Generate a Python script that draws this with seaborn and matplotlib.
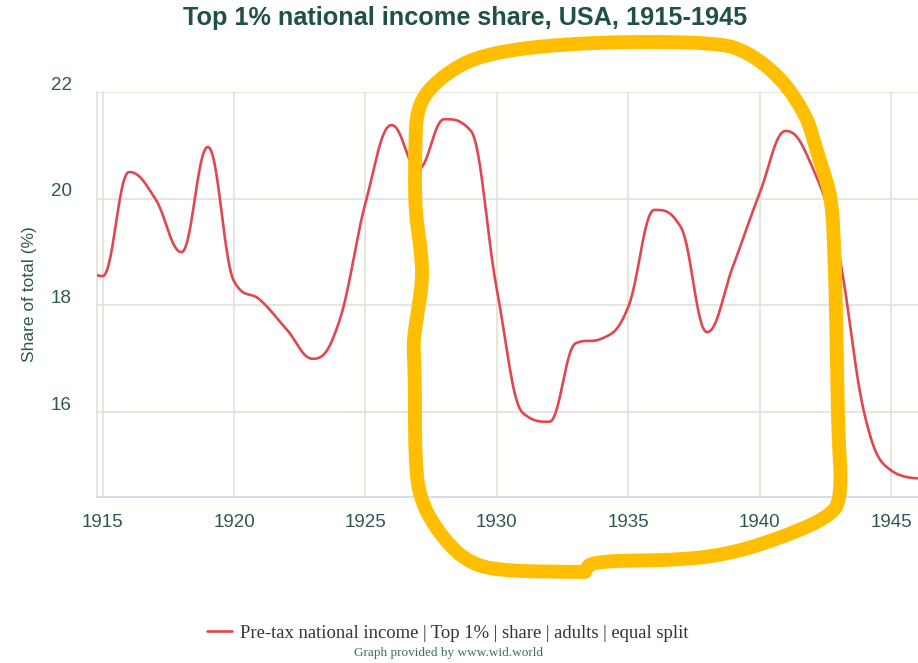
import matplotlib
matplotlib.use("Agg")
import matplotlib.pyplot as plt
import matplotlib.transforms as mtransforms
import numpy as np
import seaborn as sns

# Top 1% pre-tax national income share, USA
years = list(range(1914, 1947))
shares = [18.75, 18.55, 20.5, 20.0, 19.0, 20.97, 18.45, 18.1, 17.55, 17.0,
          17.7, 19.92, 21.38, 20.55, 21.49, 21.28, 18.3, 15.98, 15.82, 17.29,
          17.38, 17.97, 19.79, 19.47, 17.5, 18.75, 20.1, 21.27, 20.6, 19.0,
          15.95, 14.91, 14.76]
x_ticks = [1915, 1920, 1925, 1930, 1935, 1940, 1945]
y_ticks = [16, 18, 20, 22]
series_label = "Pre-tax national income | Top 1% | share | adults | equal split"

# hand-drawn highlight loop, in figure pixels (918x663)
loop_px = [(585, 572), (500, 571), (467, 562), (440, 535), (420, 500),
           (415, 460), (415, 377), (413, 343), (417, 317), (423, 277),
           (420, 243), (415, 210), (415, 150), (417, 105), (440, 77),
           (483, 53), (583, 42), (717, 42), (750, 53), (783, 80),
           (807, 117), (815, 145), (823, 170), (832, 200), (835, 267),
           (837, 360), (838, 427), (842, 500), (827, 518), (783, 537),
           (733, 553), (683, 560), (592, 561), (585, 571)]

TEAL = "#214f49"
TICK_TEAL = "#2f5854"
GRID = "#e1e1d6"
AXIS = "#ccd6eb"
RED = "#e0474f"
YELLOW = "#ffbf00"


def spline(xs, ys, smoothing=1.5, n=30):
    """Bezier spline with the control-point rule used by the source chart."""
    xs = np.asarray(xs, float)
    ys = np.asarray(ys, float)
    m = len(xs)
    lcx, lcy, rcx, rcy = xs.copy(), ys.copy(), xs.copy(), ys.copy()
    d = smoothing + 1
    for i in range(1, m - 1):
        px, py = xs[i], ys[i]
        lx, ly, nx, ny = xs[i - 1], ys[i - 1], xs[i + 1], ys[i + 1]
        a_x, a_y = (smoothing * px + lx) / d, (smoothing * py + ly) / d
        b_x, b_y = (smoothing * px + nx) / d, (smoothing * py + ny) / d
        corr = (b_y - a_y) * (b_x - px) / (b_x - a_x) + py - b_y
        a_y += corr
        b_y += corr
        if a_y > ly and a_y > py:
            a_y = max(ly, py); b_y = 2 * py - a_y
        elif a_y < ly and a_y < py:
            a_y = min(ly, py); b_y = 2 * py - a_y
        if b_y > ny and b_y > py:
            b_y = max(ny, py); a_y = 2 * py - b_y
        elif b_y < ny and b_y < py:
            b_y = min(ny, py); a_y = 2 * py - b_y
        lcx[i], lcy[i], rcx[i], rcy[i] = a_x, a_y, b_x, b_y
    t = np.linspace(0, 1, n)[:, None]
    out_x, out_y = [xs[0]], [ys[0]]
    for i in range(1, m):
        p0 = np.array([xs[i - 1], ys[i - 1]])
        p1 = np.array([rcx[i - 1], rcy[i - 1]])
        p2 = np.array([lcx[i], lcy[i]])
        p3 = np.array([xs[i], ys[i]])
        pts = ((1 - t) ** 3 * p0 + 3 * (1 - t) ** 2 * t * p1
               + 3 * (1 - t) * t ** 2 * p2 + t ** 3 * p3)
        out_x.extend(pts[1:, 0])
        out_y.extend(pts[1:, 1])
    return np.array(out_x), np.array(out_y)


def chaikin(pts, rounds=3):
    pts = np.asarray(pts, float)
    for _ in range(rounds):
        q = 0.75 * pts[:-1] + 0.25 * pts[1:]
        r = 0.25 * pts[:-1] + 0.75 * pts[1:]
        new = np.empty((2 * len(q), 2))
        new[0::2] = q
        new[1::2] = r
        pts = np.vstack([pts[:1], new, pts[-1:]])
    return pts


sns.set_style("white")
plt.rcParams["font.family"] = ["Liberation Sans", "DejaVu Sans"]

W, H = 918, 663
fig = plt.figure(figsize=(W / 100, H / 100), dpi=100)
left, top, bottom = 96.7, 92, 497
ax = fig.add_axes([left / W, 1 - bottom / H, (W - left) / W, (bottom - top) / H])

sx, sy = spline(years, shares)
sns.lineplot(x=sx, y=sy, ax=ax, color=RED, linewidth=1.9, sort=False,
             label=series_label, zorder=3)

ax.set_xlim(1914.77, 1946.03)
ax.set_ylim(14.41, 22)
ax.set_xticks(x_ticks)
ax.set_yticks(y_ticks)
ax.grid(True, color=GRID, linewidth=1.2)
for s in ("top", "right"):
    ax.spines[s].set_visible(False)
ax.spines["left"].set_color(GRID)
ax.spines["left"].set_linewidth(1.2)
ax.spines["bottom"].set_color(AXIS)
ax.spines["bottom"].set_linewidth(1.2)
ax.tick_params(axis="x", direction="out", length=7.5, width=1, color=AXIS,
               pad=5, labelsize=13.5, labelcolor=TICK_TEAL)
ax.tick_params(axis="y", length=0, pad=18, labelsize=13.5, labelcolor=TICK_TEAL)
shift = mtransforms.ScaledTranslation(0, 9 / 100, fig.dpi_scale_trans)
for lab in ax.get_yticklabels():
    lab.set_transform(lab.get_transform() + shift)

ax.set_xlabel("")
ax.set_ylabel("Share of total (%)", fontsize=12.5, color=TICK_TEAL, labelpad=10)

fig.text(465 / W, 1 - 18 / H, "Top 1% national income share, USA, 1915-1945",
         ha="center", va="center", fontsize=18.2, fontweight="bold", color=TEAL)

ax.legend(loc="center", bbox_to_anchor=(448 / W, 1 - 633 / H),
          bbox_transform=fig.transFigure, frameon=False, handlelength=1.3,
          handletextpad=0.45, prop={"family": "Liberation Serif", "size": 13.4},
          labelcolor="#333333")
fig.text(448 / W, 1 - 653 / H, "Graph provided by www.wid.world",
         ha="center", va="center", fontsize=9.5, family="Liberation Serif",
         color="#3f6e68")

loop = chaikin(loop_px)
fig.lines.append(plt.Line2D(loop[:, 0] / W, 1 - loop[:, 1] / H,
                            transform=fig.transFigure, color=YELLOW,
                            linewidth=10, solid_capstyle="round",
                            solid_joinstyle="round", zorder=10))

fig.savefig("out.png", dpi=100)
